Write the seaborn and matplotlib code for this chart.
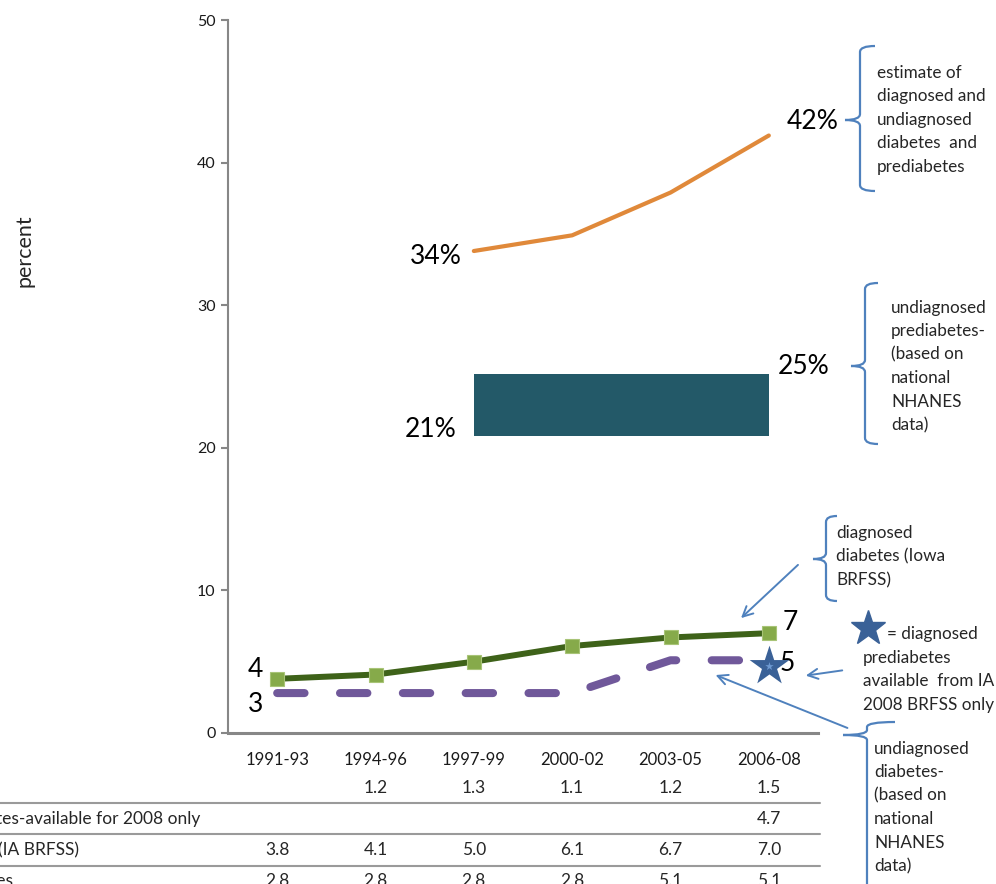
import numpy as np
import pandas as pd
import matplotlib
matplotlib.use("Agg")
import matplotlib.pyplot as plt
import seaborn as sns
from matplotlib.path import Path
from matplotlib.patches import PathPatch, FancyArrowPatch
from matplotlib.lines import Line2D
from matplotlib.transforms import blended_transform_factory

# ---- data -------------------------------------------------------------
periods = ["1991-93", "1994-96", "1997-99", "2000-02", "2003-05", "2006-08"]
total_estimate = [np.nan, np.nan, 33.8, 34.9, 37.9, 41.9]      # diagnosed + undiagnosed diabetes + prediabetes
prediab_low = [np.nan, np.nan, 20.8, 20.8, 20.8, 20.8]        # undiagnosed prediabetes (NHANES) band
prediab_high = [np.nan, np.nan, 25.2, 25.2, 25.2, 25.2]
diagnosed = [3.8, 4.1, 5.0, 6.1, 6.7, 7.0]                     # diagnosed diabetes (IA BRFSS)
undiagnosed = [2.8, 2.8, 2.8, 2.8, 5.1, 5.1]                   # undiagnosed diabetes (NHANES)
diag_prediab_2008 = 4.7                                        # diagnosed prediabetes, 2008 only
incidence = [None, 1.2, 1.3, 1.1, 1.2, 1.5]

table_labels = ["diabetes incidence",
                "diagnosed prediabetes-available for 2008 only",
                "diagnosed diabetes (IA BRFSS)",
                "undiagnosed diabetes"]
table_rows = [incidence,
              [None] * 5 + [diag_prediab_2008],
              diagnosed,
              undiagnosed]

# ---- style ------------------------------------------------------------
sns.set_theme(style="white")
plt.rcParams["font.family"] = ["Lato", "DejaVu Sans"]

W, H = 996, 884
fig = plt.figure(figsize=(W / 100, H / 100), dpi=100)


def fx(x):
    return x / W


def fy(y):
    return 1 - y / H


ax = fig.add_axes([fx(228), fy(733), (818 - 228) / W, (733 - 20) / H])

ORANGE = "#E0893A"
TEAL = "#235968"
GREEN = "#3E6219"
LGREEN = "#86AA4A"
PURPLE = "#70589A"
BLUE = "#4F81BD"
STAR = "#3A6197"
GREY = "#878787"

df = pd.DataFrame({"pos": np.arange(len(periods)), "period": periods,
                   "total": total_estimate, "low": prediab_low, "high": prediab_high,
                   "diag": diagnosed, "undiag": undiagnosed})

# undiagnosed prediabetes band
ax.fill_between(df["pos"], df["low"], df["high"], color=TEAL, lw=0, zorder=2)

# total estimate line
sns.lineplot(data=df.dropna(subset=["total"]), x="pos", y="total", ax=ax,
             color=ORANGE, lw=3.0, zorder=3, solid_capstyle="round")

# undiagnosed diabetes (dashed)
sns.lineplot(data=df, x="pos", y="undiag", ax=ax, color=PURPLE, lw=5.8, zorder=3)
pl = ax.lines[-1]
pl.set_linestyle((0, (3.4, 4.4)))
pl.set_dash_capstyle("round")

# diagnosed diabetes
sns.lineplot(data=df, x="pos", y="diag", ax=ax, color=GREEN, lw=4.3, zorder=4,
             marker="s", markersize=10, markerfacecolor=LGREEN,
             markeredgecolor="#A8C477", markeredgewidth=0.8)

# diagnosed prediabetes 2008 star
ax.scatter([5], [diag_prediab_2008], marker="*", s=900, color=STAR, zorder=5, lw=0)
ax.scatter([5], [diag_prediab_2008], marker="*", s=40, color="#6E9AD2", zorder=6, lw=0)

ax.set_xlim(-0.5, 5.5)
ax.set_ylim(0, 50)
ax.set_xticks(df["pos"])
ax.set_xticklabels(periods, fontsize=12, color="#1a1a1a")
ax.set_yticks(range(0, 51, 10))
ax.set_yticklabels([str(v) for v in range(0, 51, 10)], fontsize=11.5, color="#1a1a1a")
ax.set_xlabel("")
ax.set_ylabel("")
ax.tick_params(axis="y", left=True, length=5, width=1.5, color=GREY, pad=4)
ax.tick_params(axis="x", bottom=False, pad=8)
for s in ["top", "right"]:
    ax.spines[s].set_visible(False)
ax.spines["left"].set_color(GREY)
ax.spines["left"].set_linewidth(1.5)
ax.spines["bottom"].set_color(GREY)
ax.spines["bottom"].set_linewidth(2.2)

fig.text(fx(24), fy(251), "percent", rotation=90, fontsize=15.5, ha="center", va="center")

# value labels (offsets in points)
lab = dict(fontsize=19, color="black", textcoords="offset points", va="center")
ax.annotate(f"{total_estimate[2]:.0f}%", xy=(2, total_estimate[2]), xytext=(-9, -4), ha="right", **lab)
ax.annotate(f"{total_estimate[5]:.0f}%", xy=(5, total_estimate[5]), xytext=(13, 10), ha="left", **lab)
ax.annotate(f"{prediab_high[5]:.0f}%", xy=(5.03, prediab_high[5]), xytext=(4, 5), ha="left", **lab)
ax.annotate(f"{prediab_low[2]:.0f}%", xy=(1.97, prediab_low[2]), xytext=(-10, 5), ha="right", **lab)
ax.annotate(f"{diagnosed[0]:.0f}", xy=(0, diagnosed[0]), xytext=(-10, 7), ha="right", **lab)
ax.annotate(f"{undiagnosed[0]:.0f}", xy=(0, undiagnosed[0]), xytext=(-10, -8), ha="right", **lab)
ax.annotate(f"{diagnosed[5]:.0f}", xy=(5, diagnosed[5]), xytext=(10, 8), ha="left", **lab)
ax.annotate(f"{diag_prediab_2008:.0f}", xy=(5, diag_prediab_2008), xytext=(8, 2), ha="left", **lab)


# ---- side notes ---------------------------------------------------------
def text_block(x, y0, step, lines, size=12.3):
    for i, t in enumerate(lines):
        fig.text(fx(x), fy(y0 + i * step), t, fontsize=size, ha="left", va="center")


def brace(xv, top, mid, bottom, tip, hook, r=6):
    pts = [(hook, top), (xv, top), (xv, top + r),
           (xv, mid - r), (xv, mid), (tip, mid),
           (xv, mid), (xv, mid + r),
           (xv, bottom - r), (xv, bottom), (hook, bottom)]
    codes = [Path.MOVETO, Path.CURVE3, Path.CURVE3,
             Path.LINETO, Path.CURVE3, Path.CURVE3,
             Path.CURVE3, Path.CURVE3,
             Path.LINETO, Path.CURVE3, Path.CURVE3]
    verts = [(fx(a), fy(b)) for a, b in pts]
    fig.patches.append(PathPatch(Path(verts, codes), transform=fig.transFigure,
                                 fill=False, edgecolor=BLUE, lw=1.6))


def arrow(x0, y0, x1, y1):
    fig.patches.append(FancyArrowPatch((fx(x0), fy(y0)), (fx(x1), fy(y1)),
                                       transform=fig.transFigure, arrowstyle="->",
                                       mutation_scale=18, color=BLUE, lw=1.4))


brace(860, 46, 120, 191, 845, 875)
text_block(877, 73, 23.5, ["estimate of", "diagnosed and", "undiagnosed",
                           "diabetes  and", "prediabetes"])

brace(865, 283, 366, 444, 851, 878)
text_block(891, 308, 23.4, ["undiagnosed", "prediabetes-", "(based on",
                            "national", "NHANES", "data)"])

brace(826, 516, 559, 601, 813, 837)
text_block(836, 533, 23.5, ["diagnosed", "diabetes (Iowa", "BRFSS)"])
arrow(800, 563, 739, 620)

fig.lines.append(Line2D([fx(868)], [fy(628)], transform=fig.transFigure, marker="*",
                        markersize=26, color=STAR, lw=0))
fig.text(fx(887), fy(634), "= diagnosed", fontsize=12.3, ha="left", va="center")
text_block(863, 658, 23.5, ["prediabetes", "available  from IA", "2008 BRFSS only"])
arrow(845, 670, 803, 676)

brace(867, 722, 735, 905, 843, 895, r=5)
text_block(874, 749, 23.4, ["undiagnosed", "diabetes-", "(based on",
                            "national", "NHANES", "data)"])
arrow(850, 729, 713, 674)

# ---- data table under the axis -------------------------------------------
tr = blended_transform_factory(ax.transData, fig.transFigure)
row_y = [788, 819, 850, 881]
for label, vals, y in zip(table_labels, table_rows, row_y):
    fig.text(fx(-153), fy(y), label, fontsize=12.5, ha="left", va="center")
    for i, v in enumerate(vals):
        if v is not None:
            ax.text(i, fy(y), f"{v:.1f}", transform=tr, fontsize=12.5,
                    ha="center", va="center", clip_on=False)
for y in [803, 834, 866]:
    fig.lines.append(Line2D([0, fx(820)], [fy(y), fy(y)], transform=fig.transFigure,
                            color="#9A9A9A", lw=1.5))

fig.savefig("out.png", dpi=100)
